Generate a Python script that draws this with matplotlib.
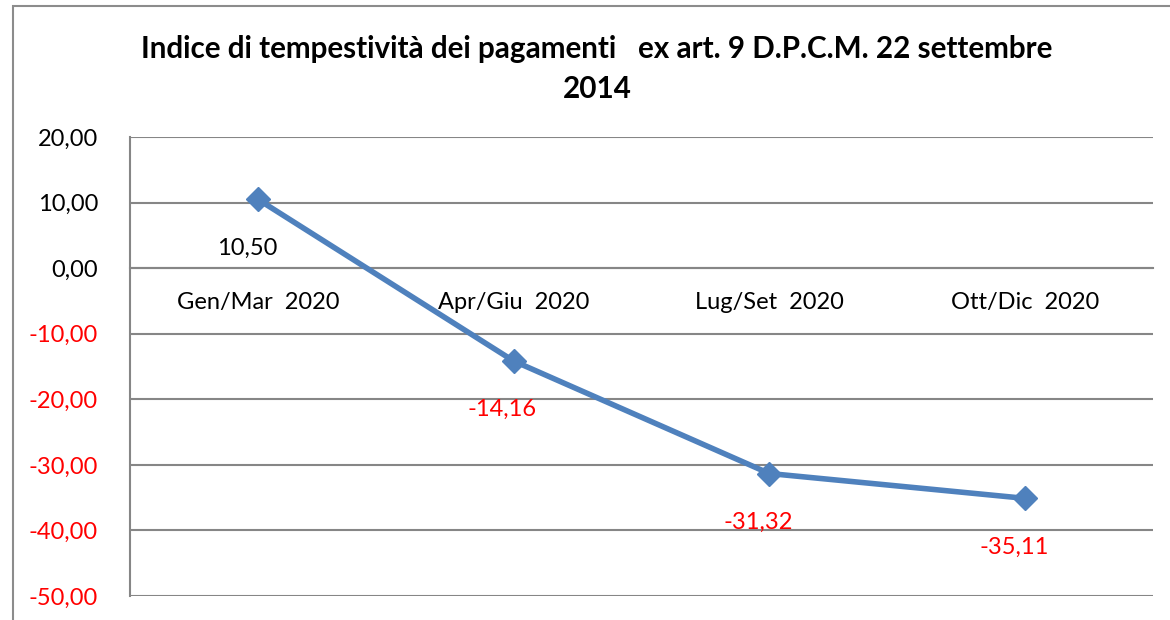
import matplotlib.pyplot as plt
from matplotlib.patches import Rectangle

# data
periods = ["Gen/Mar  2020", "Apr/Giu  2020", "Lug/Set  2020", "Ott/Dic  2020"]
values = [10.50, -14.16, -31.32, -35.11]
yticks = [20, 10, 0, -10, -20, -30, -40, -50]
title = "Indice di tempestività dei pagamenti   ex art. 9 D.P.C.M. 22 settembre\n2014"

plt.rcParams['font.family'] = ['Lato', 'DejaVu Sans']

W, H = 1170, 620
fig = plt.figure(figsize=(W / 100, H / 100), dpi=100)
fig.patches.append(Rectangle((13 / W, -0.1), 1.2, 1 - 6 / H + 0.1, transform=fig.transFigure,
                             fill=False, edgecolor='#8c8c8c', lw=1.5))

ax = fig.add_axes([130 / W, 24 / H, 1023 / W, (596 - 137) / H])
x = list(range(len(periods)))
ax.plot(x, values, color='#4F81BD', lw=4, marker='D', markersize=12, zorder=3)

ax.set_xlim(-0.5, 3.5)
ax.set_ylim(-50, 20)
ax.set_yticks(yticks)
ax.set_yticklabels([("%.2f" % v).replace('.', ',') for v in yticks])
for lab, v in zip(ax.get_yticklabels(), yticks):
    lab.set_color('#FF0000' if v < 0 else 'black')
ax.tick_params(axis='y', length=0, pad=23, labelsize=17)
ax.grid(axis='y', color='#868686', lw=1.5)
ax.set_axisbelow(True)

ax.set_xticks(x)
ax.set_xticklabels(periods)
ax.tick_params(axis='x', length=0, pad=17, labelsize=17)
ax.spines['bottom'].set_position(('data', 0))
ax.spines['bottom'].set_color('#868686')
ax.spines['bottom'].set_linewidth(1.5)
ax.spines['left'].set_color('#868686')
ax.spines['left'].set_linewidth(1.5)
ax.spines['top'].set_visible(False)
ax.spines['right'].set_visible(False)

for xi, v in zip(x, values):
    ax.annotate(("%.2f" % v).replace('.', ','), (xi, v), xytext=(-8, -35),
                textcoords='offset points', ha='center', va='center', fontsize=17,
                color='#FF0000' if v < 0 else 'black')

fig.text(597 / W, 1 - 69 / H, title, ha='center', va='center', fontsize=21.3,
         fontweight='bold', linespacing=1.5)

fig.savefig("out.png", dpi=100)
